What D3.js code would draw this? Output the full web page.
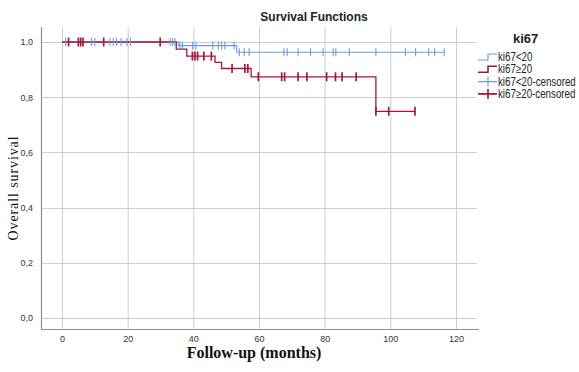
<!DOCTYPE html>
<html>
<head>
<meta charset="utf-8">
<script src="https://cdn.jsdelivr.net/npm/d3@7"></script>
<style>
  body { margin: 0; background: #fff; }
  svg { display: block; }
  .tick text { font-family: Arial, "Liberation Sans", sans-serif; font-size: 9px; fill: #333; }
</style>
</head>
<body>
<div id="chart"></div>
<script>
// Kaplan-Meier steps: [time (months), survival after the event]
const lowEvents = [[35.4, 0.987], [53.2, 0.963]];
const lowEnd = 116.4;
const lowCensored = [1.1, 9.0, 10.0, 14.6, 15.6, 16.6, 18.0, 19.8, 20.9, 32.9, 33.7, 34.4,
  35.9, 36.7, 39.8, 40.8, 45.9, 47.6, 48.6, 49.6, 52.4, 54.0, 55.5, 57.0, 67.6, 68.6, 71.9,
  75.7, 79.5, 82.6, 83.4, 87.5, 95.6, 104.6, 107.7, 111.7, 113.5, 116.4];

const highEvents = [[34.8, 0.974], [38.0, 0.949], [46.6, 0.926], [48.6, 0.904], [57.6, 0.874], [95.6, 0.749]];
const highEnd = 107.5;
const highCensored = [2.0, 5.0, 5.7, 6.4, 12.7, 29.9, 39.7, 40.5, 41.3, 43.2, 45.5, 51.8, 55.7,
  56.6, 59.8, 66.9, 67.8, 71.9, 74.6, 80.6, 83.3, 85.3, 89.6, 95.6, 99.5, 107.5];

const xTicks = [0, 20, 40, 60, 80, 100, 120];
const yTicks = [0, 0.2, 0.4, 0.6, 0.8, 1.0];
const legendLabels = ['ki67<20', 'ki67\u226520', 'ki67<20-censored', 'ki67\u226520-censored'];

const width = 579, height = 372;
const blue = '#6f9bd3', red = '#a3173f';

const svg = d3.select('#chart').append('svg').attr('width', width).attr('height', height);

const x = d3.scaleLinear().domain([0, 120]).range([62, 456]);
const y = d3.scaleLinear().domain([0, 1]).range([318, 42]);

const plotLeft = 41, plotRight = 479, plotTop = 27, plotBottom = 329;

// grid
const grid = svg.append('g').attr('stroke', '#c9ccd7').attr('stroke-width', 1);
grid.selectAll('.v').data(xTicks).join('line')
  .attr('x1', d => x(d) + 0.5).attr('x2', d => x(d) + 0.5)
  .attr('y1', plotTop).attr('y2', plotBottom);
grid.selectAll('.h').data(yTicks).join('line')
  .attr('x1', plotLeft).attr('x2', plotRight - 2)
  .attr('y1', d => Math.round(y(d)) + 0.5).attr('y2', d => Math.round(y(d)) + 0.5);

// axes lines
svg.append('line').attr('x1', plotLeft + 0.5).attr('x2', plotLeft + 0.5).attr('y1', plotTop).attr('y2', plotBottom)
  .attr('stroke', '#8a8e9a').attr('stroke-width', 1.2);
svg.append('line').attr('x1', plotLeft).attr('x2', plotRight).attr('y1', plotBottom + 0.5).attr('y2', plotBottom + 0.5)
  .attr('stroke', '#8a8e9a').attr('stroke-width', 1.2);

// tick labels through d3 axes
const xAxis = svg.append('g').attr('transform', `translate(0,${plotBottom + 4})`)
  .call(d3.axisBottom(x).tickValues(xTicks).tickSize(0).tickFormat(d3.format('d')));
xAxis.select('.domain').remove();
const yAxis = svg.append('g').attr('transform', `translate(${plotLeft - 5},0)`)
  .call(d3.axisLeft(y).tickValues(yTicks).tickSize(0).tickFormat(d => d.toFixed(1).replace('.', ',')));
yAxis.select('.domain').remove();

function stepPath(events, end) {
  const pts = [[0, 1]];
  let s = 1;
  events.forEach(([t, v]) => { pts.push([t, s]); pts.push([t, v]); s = v; });
  pts.push([end, s]);
  return d3.line().x(d => x(d[0])).y(d => y(d[1]))(pts);
}
function survAt(events, t) {
  let s = 1;
  events.forEach(([et, v]) => { if (et <= t) s = v; });
  return s;
}

svg.append('path').attr('d', stepPath(lowEvents, lowEnd))
  .attr('fill', 'none').attr('stroke', blue).attr('stroke-width', 1.1);
svg.append('path').attr('d', stepPath(highEvents, highEnd))
  .attr('fill', 'none').attr('stroke', red).attr('stroke-width', 1.3);

svg.append('g').selectAll('line').data(lowCensored).join('line')
  .attr('x1', d => x(d)).attr('x2', d => x(d))
  .attr('y1', d => y(survAt(lowEvents, d)) - 4).attr('y2', d => y(survAt(lowEvents, d)) + 4)
  .attr('stroke', blue).attr('stroke-width', 1.1);
svg.append('g').selectAll('line').data(highCensored).join('line')
  .attr('x1', d => x(d)).attr('x2', d => x(d))
  .attr('y1', d => y(survAt(highEvents, d)) - 4.5).attr('y2', d => y(survAt(highEvents, d)) + 4.5)
  .attr('stroke', red).attr('stroke-width', 1.7);

// titles
svg.append('text').attr('x', 314).attr('y', 21).attr('text-anchor', 'middle')
  .attr('font-family', 'Arial, "Liberation Sans", sans-serif').attr('font-size', 12)
  .attr('font-weight', 'bold').attr('fill', '#222').text('Survival Functions');

svg.append('text').attr('x', 254).attr('y', 358).attr('text-anchor', 'middle')
  .attr('font-family', '"Times New Roman", "Liberation Serif", serif').attr('font-size', 16)
  .attr('font-weight', 'bold').attr('fill', '#111').text('Follow-up (months)');

svg.append('text').attr('transform', 'translate(18,188) rotate(-90)').attr('text-anchor', 'middle')
  .attr('font-family', '"Times New Roman", "Liberation Serif", serif').attr('font-size', 14)
  .attr('letter-spacing', 0.9).attr('fill', '#111').text('Overall survival');

// legend
svg.append('text').attr('x', 513).attr('y', 43)
  .attr('font-family', 'Arial, "Liberation Sans", sans-serif').attr('font-size', 13)
  .attr('font-weight', 'bold').attr('fill', '#222').text('ki67');

const legendColors = [blue, red, blue, red];
const lg = svg.append('g').selectAll('g').data(legendLabels).join('g')
  .attr('transform', (d, i) => `translate(478,${57 + i * 12.3})`);
lg.each(function (d, i) {
  const g = d3.select(this);
  const c = legendColors[i];
  if (i < 2) {
    g.append('path').attr('d', 'M0,3H10V-3H19').attr('fill', 'none')
      .attr('stroke', c).attr('stroke-width', i === 1 ? 1.6 : 1.1);
  } else {
    g.append('path').attr('d', 'M0,0H19M10,-5V5').attr('fill', 'none')
      .attr('stroke', c).attr('stroke-width', i === 3 ? 1.6 : 1.1);
  }
  g.append('text').attr('transform', 'translate(20,4) scale(0.8,1)')
    .attr('font-family', 'Arial, "Liberation Sans", sans-serif')
    .attr('font-size', 12.2).attr('fill', '#222').text(d);
});
</script>
</body>
</html>
